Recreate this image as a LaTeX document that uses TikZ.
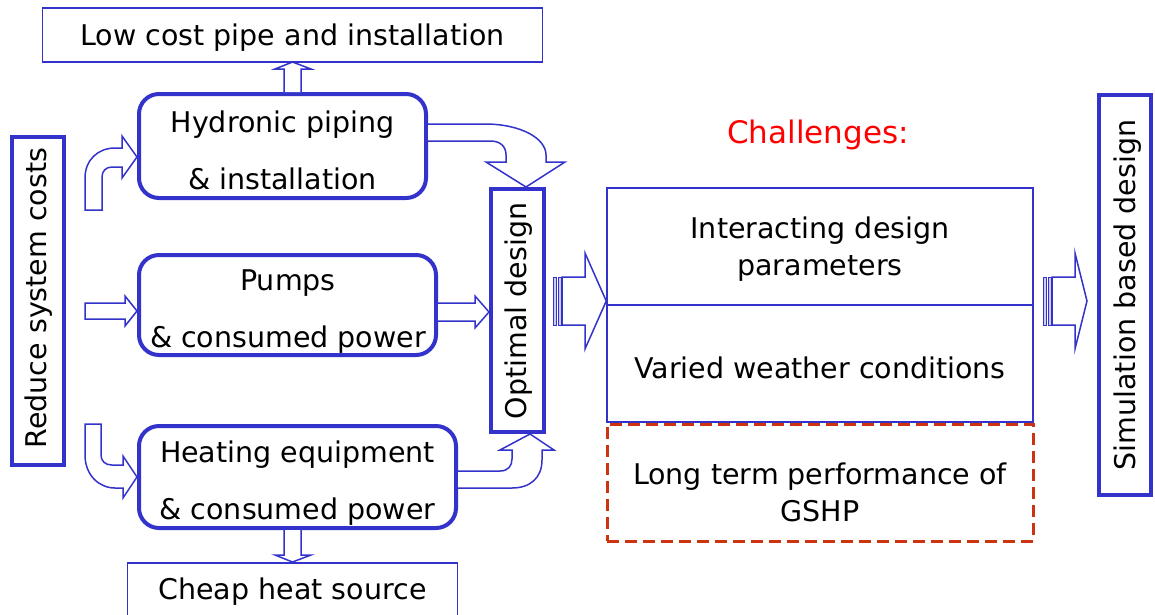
\documentclass[tikz,border=0pt]{standalone}
\usepackage{fontspec}
\setmainfont{DejaVu Sans}
\definecolor{bl}{RGB}{51,51,204}
\definecolor{dred}{RGB}{204,51,17}
\begin{document}
\begin{tikzpicture}[x=1pt,y=-1pt,
  txt/.style={font=\fontsize{28.5}{57}\selectfont, align=center, inner sep=0pt},
  txtr/.style={font=\fontsize{28.5}{37}\selectfont, align=center, inner sep=0pt},
  thickbox/.style={draw=bl, line width=4pt, rounded corners=20pt},
  sqbox/.style={draw=bl, line width=4pt},
  thinbox/.style={draw=bl, line width=1.5pt},
  barrow/.style={draw=bl, line width=1.5pt, fill=white, line join=miter},
  stripe/.style={draw=bl, line width=1pt, fill=bl!25}]
\useasboundingbox (0,0) rectangle (1155,614);

% boxes
\node[thinbox, minimum width=500pt, minimum height=54pt] (low) at (292.5,35) {};
\node[txt] (lowt) at (292.5,38) {Low cost pipe and installation};
\node[thickbox, minimum width=287pt, minimum height=104pt] (hyd) at (282.5,146) {};
\node[txt] (hydt) at (282.5,150) {Hydronic piping\\ \& installation};
\node[thickbox, minimum width=297pt, minimum height=100pt] (pump) at (287.5,305) {};
\node[txt] (pumpt) at (288,312) {Pumps\\ \& consumed power};
\node[thickbox, minimum width=317pt, minimum height=102pt] (heat) at (297.5,477) {};
\node[txt] (heatt) at (297.5,483) {Heating equipment\\ \& consumed power};
\node[thinbox, minimum width=330pt, minimum height=53pt, anchor=north] (cheap) at (292.5,562) {};
\node[txt] (cheapt) at (292.5,592) {Cheap heat source};
\node[sqbox, minimum width=52pt, minimum height=328pt] (reduce) at (38,301) {};
\node[txt, rotate=90] (reducet) at (39,298) {Reduce system costs};
\node[sqbox, minimum width=53pt, minimum height=243pt] (opt) at (517.5,310.5) {};
\node[txt, rotate=90] (optt) at (519,311) {Optimal design};
\node[sqbox, minimum width=52pt, minimum height=400pt] (sim) at (1125,295) {};
\node[txt, rotate=90] (simt) at (1128,295) {Simulation based design};

\node[txt, font=\fontsize{31}{37}\selectfont, text=red] (chal) at (818,135) {Challenges:};
\node[thinbox, minimum width=426pt, minimum height=117pt] (c1) at (820,246.5) {};
\node[txtr] (c1t) at (820,249) {Interacting design\\ parameters};
\node[thinbox, minimum width=426pt, minimum height=117pt] (c2) at (820,363.5) {};
\node[txtr] (c2t) at (820,368) {Varied weather conditions};
\node[draw=dred, line width=3pt, dash pattern=on 12pt off 6pt, minimum width=426pt, minimum height=117pt] (c3) at (820,482.5) {};
\node[txtr] (c3t) at (820,492) {Long term performance of\\ GSHP};

% block arrows
\draw[barrow] (hyd.north -| 284,0) -- (284,69) -- (275,69) -- (292.5,62) -- (311,69) -- (301,69) -- (hyd.north -| 301,0);
\draw[barrow] (heat.south -| 284,0) -- (284,555) -- (275,555) -- (292.5,562) -- (311,555) -- (301,555) -- (heat.south -| 301,0);
\draw[barrow] (85,303) -- (125,303) -- (125,296) -- (pump.west |- 0,311) -- (125,326) -- (125,319) -- (85,319) -- cycle;
\draw[barrow] (pump.east |- 0,303) -- (475,303) -- (475,296) -- (opt.west |- 0,312) -- (475,328) -- (475,321) -- (pump.east |- 0,321);
\draw[barrow] (85,210) -- (85,178) .. controls (85,160) and (98,148) .. (115,148) -- (122,148) -- (122,136) -- (hyd.west |- 0,157) -- (122,178) -- (122,167) -- (112,167) .. controls (106,167) and (102,171) .. (102,177) -- (102,210) -- cycle;
\draw[barrow] (85,424) -- (85,455) .. controls (85,475) and (99,488) .. (115,488) -- (123,488) -- (123,498) -- (heat.west |- 0,477) -- (123,456) -- (123,465) -- (112,465) .. controls (105,465) and (101,461) .. (101,455) -- (101,424) -- cycle;
\draw[barrow] (hyd.east |- 0,124) -- (485,124) .. controls (520,124) and (546,138) .. (546,155) -- (546,162) -- (565,162) -- (opt.north -| 526,0) -- (486,162) -- (506,162) -- (506,155) .. controls (506,146) and (500,141) .. (490,141) -- (hyd.east |- 0,141);
\draw[barrow] (heat.east |- 0,471) -- (500,471) .. controls (508,471) and (512,466) .. (512,459) -- (512,450) -- (500,450) -- (opt.south -| 530,0) -- (554,450) -- (542,450) -- (542,460) .. controls (542,478) and (530,488) .. (512,488) -- (heat.east |- 0,488);

% striped arrows
\draw[stripe] (553,277) rectangle (556,325);
\draw[stripe] (558,277) rectangle (561,325);
\draw[barrow] (562,277) -- (585,277) -- (585,253) -- (c1.west |- 0,301) -- (585,349) -- (585,325) -- (562,325) -- cycle;
\draw[stripe] (1043,277) rectangle (1046,325);
\draw[stripe] (1048,277) rectangle (1051,325);
\draw[barrow] (1052,277) -- (1075,277) -- (1075,253) -- (1087,301) -- (1075,349) -- (1075,325) -- (1052,325) -- cycle;
\end{tikzpicture}
\end{document}
